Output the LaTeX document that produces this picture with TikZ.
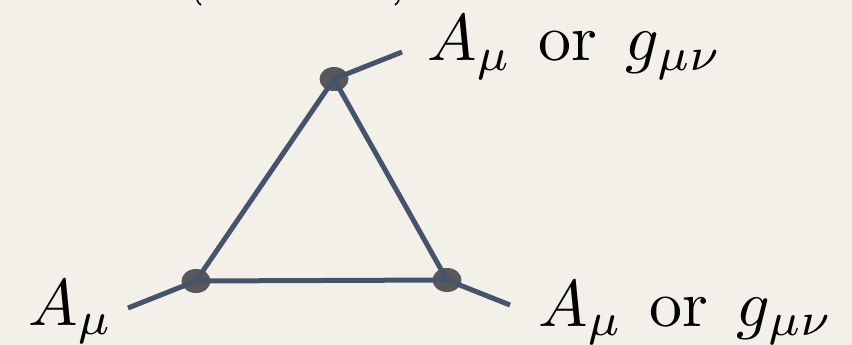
\documentclass[tikz,border=0pt]{standalone}
\usepackage{graphicx}
\usetikzlibrary{shapes.geometric}
\definecolor{bgc}{RGB}{243,240,234}
\definecolor{linec}{RGB}{70,83,107}
\definecolor{dotc}{RGB}{88,88,90}
\newcommand{\bigtxt}[1]{\scalebox{6.6}{#1}}
\newcommand{\eitherlbl}{$A_\mu$\hspace{4.0pt}or\hspace{4.3pt}$g_{\mu\nu}$}
\tikzset{
  vtx/.style={ellipse,fill=dotc,minimum width=29pt,minimum height=24pt,inner sep=0pt},
  prop/.style={draw=linec,line width=5pt},
  lbl/.style={anchor=base west,inner sep=0pt}
}
\begin{document}
\begin{tikzpicture}[x=1pt,y=-1pt]
\fill[bgc] (0,0) rectangle (852,345);
\useasboundingbox (0,0) rectangle (852,345);
% cut-off parentheses at the top edge
\draw[black,line width=1.6pt] (197,0) to[bend right=15] (201,5);
\draw[black,line width=1.6pt] (399,0) to[bend left=15] (395,5);
\node[vtx] (T) at (334,79) {};
\node[vtx] (L) at (196,281) {};
\node[vtx] (R) at (447,280) {};
\coordinate (Te) at (402,52);
\coordinate (Le) at (128,308);
\coordinate (Re) at (510,305);
\draw[prop] (T.center) -- (L.center) -- (R.center) -- cycle;
\draw[prop] (T.center) -- (Te);
\draw[prop] (L.center) -- (Le);
\draw[prop] (R.center) -- (Re);
\node[lbl] (tl) at (427,61) {\bigtxt{\eitherlbl}};
\node[lbl] (bl) at (28,325) {\bigtxt{$A_\mu$}};
\node[lbl] (br) at (538,326) {\bigtxt{\eitherlbl}};
\end{tikzpicture}
\end{document}
